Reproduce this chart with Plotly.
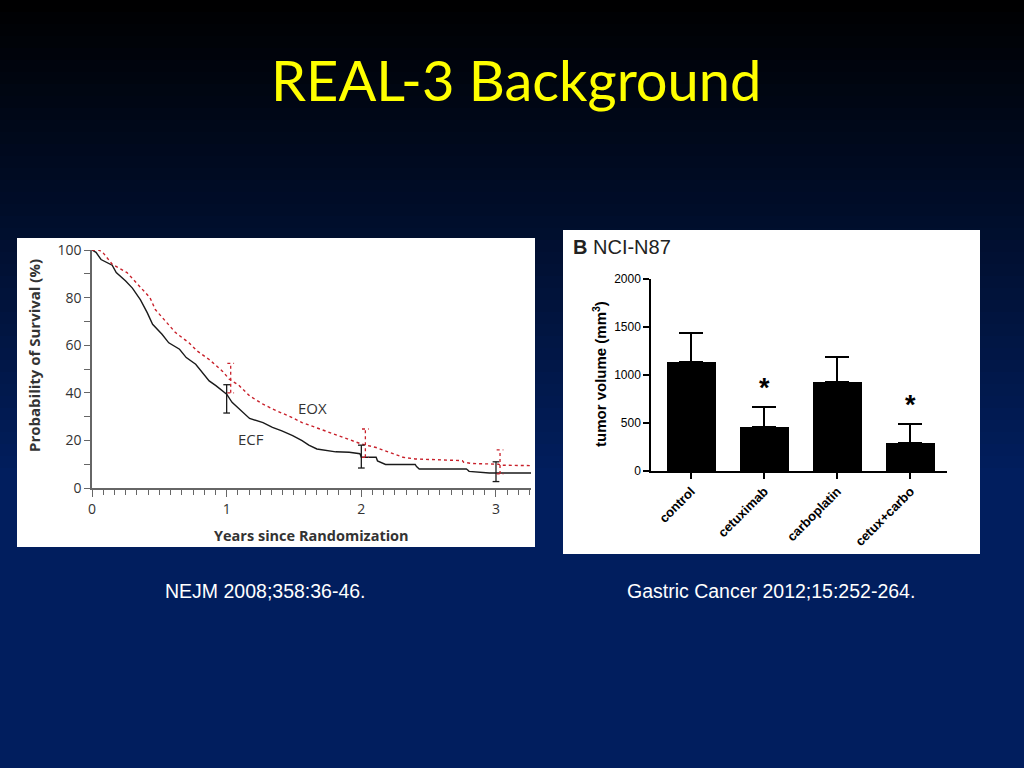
import plotly.graph_objects as go

W, H = 1024, 768

# ---------------- Data: Kaplan-Meier ----------------
ecf_t = [0, 0.03, 0.067, 0.15, 0.18, 0.25, 0.30, 0.36, 0.41, 0.45, 0.52, 0.57, 0.65, 0.70, 0.77,
         0.82, 0.87, 0.92, 1.0, 1.04, 1.12, 1.17, 1.27, 1.34, 1.41, 1.49, 1.56, 1.61, 1.67,
         1.81, 1.91, 1.99, 2.0, 2.11, 2.12, 2.18, 2.40, 2.41, 2.43, 2.78, 2.79, 2.80, 2.95, 3.26]
ecf_s = [100, 99, 96, 93.6, 90.5, 87, 84, 79, 73.7, 68.8, 64.6, 61, 58.3, 54.8, 52,
         48.5, 45, 43, 39.4, 36, 31.7, 29.2, 27.5, 25.5, 24, 22, 19.9, 18, 16.4,
         15.2, 15, 14.4, 12.9, 12.9, 11.4, 9.9, 9.9, 9.0, 8, 8, 7.6, 7, 6.3, 6.3]

eox_t = [0, 0.05, 0.08, 0.15, 0.26, 0.33, 0.43, 0.47, 0.55, 0.62, 0.72, 0.78, 0.87, 0.97, 1.02,
         1.09, 1.17, 1.27, 1.37, 1.46, 1.56, 1.66, 1.76, 1.86, 2.0, 2.11, 2.21, 2.31, 2.40,
         2.75, 2.76, 2.82, 3.02, 3.03, 3.26]
eox_s = [100, 100, 99, 94, 90.5, 86, 80, 75, 70, 65.3, 61, 57.6, 54, 49, 45.7,
         43.2, 38.7, 35.2, 32.4, 30.3, 27.5, 25.5, 23.4, 21.3, 18.5, 17, 15, 12.9, 12.2,
         11.5, 10.8, 10.3, 10, 9.6, 9.4]

ecf_ci_t = [1.0, 2.0, 3.0]
ecf_ci_lo = [31.5, 8.4, 2.7]
ecf_ci_hi = [43.4, 18.0, 11.0]
eox_ci_t = [1.03, 2.03, 3.03]
eox_ci_lo = [40.0, 12.9, 5.9]
eox_ci_hi = [52.4, 24.8, 16.0]

km_x_ticks = [0, 1, 2, 3]
km_y_ticks = [0, 20, 40, 60, 80, 100]

# ---------------- Data: tumor volume bars ----------------
groups = ["control", "cetuximab", "carboplatin", "cetux+carbo"]
volume = [1134, 456, 922, 296]
volume_err = [306, 212, 261, 191]
signif = [False, True, False, True]
bar_y_ticks = [0, 500, 1000, 1500, 2000]


def px_x(p):
    return p / W


def px_y(p):
    return 1 - p / H


fig = go.Figure()

# ---- KM curves ----
fig.add_trace(go.Scatter(x=ecf_t, y=ecf_s, mode="lines", line_shape="linear",
                         line=dict(color="#1a1a1a", width=1.4), xaxis="x", yaxis="y",
                         showlegend=False, hoverinfo="skip"))
fig.add_trace(go.Scatter(x=eox_t, y=eox_s, mode="lines", line_shape="linear",
                         line=dict(color="#c8202a", width=1.4, dash="dot"), xaxis="x", yaxis="y",
                         showlegend=False, hoverinfo="skip"))


def ci_segments(ts, lo, hi, cap=0.025):
    xs, ys = [], []
    for t, a, b in zip(ts, lo, hi):
        xs += [t, t, None, t - cap, t + cap, None, t - cap, t + cap, None]
        ys += [a, b, None, a, a, None, b, b, None]
    return xs, ys


cx, cy = ci_segments(ecf_ci_t, ecf_ci_lo, ecf_ci_hi)
fig.add_trace(go.Scatter(x=cx, y=cy, mode="lines", line=dict(color="#1a1a1a", width=1.3),
                         xaxis="x", yaxis="y", showlegend=False, hoverinfo="skip"))
rx, ry = ci_segments(eox_ci_t, eox_ci_lo, eox_ci_hi)
fig.add_trace(go.Scatter(x=rx, y=ry, mode="lines", line=dict(color="#c8202a", width=1.3, dash="dot"),
                         xaxis="x", yaxis="y", showlegend=False, hoverinfo="skip"))

# ---- Bars ----
fig.add_trace(go.Bar(x=groups, y=volume, width=0.67, marker=dict(color="black", line=dict(width=0)),
                     error_y=dict(type="data", array=volume_err, arrayminus=[0] * len(volume),
                                  symmetric=False, color="black", thickness=2, width=12),
                     xaxis="x2", yaxis="y2", showlegend=False, hoverinfo="skip"))

# ---------------- Background gradient + panels ----------------
shapes = []
N = 64
top = (0, 0, 0)
bot = (1, 30, 94)
for i in range(N):
    frac = min(1.0, (i + 0.5) / N / 0.62)
    c = tuple(int(round(top[k] + (bot[k] - top[k]) * frac)) for k in range(3))
    shapes.append(dict(type="rect", xref="paper", yref="paper", x0=-0.01, x1=1.01,
                       y0=1 - (i + 1) / N - 0.002 if i < N - 1 else -0.02,
                       y1=1 - i / N if i > 0 else 1.02, line=dict(width=0),
                       fillcolor="rgb(%d,%d,%d)" % c, layer="below"))
# white panels
shapes.append(dict(type="rect", xref="paper", yref="paper", x0=px_x(17), x1=px_x(535),
                   y0=px_y(547), y1=px_y(238), fillcolor="white", line=dict(width=0), layer="below"))
shapes.append(dict(type="rect", xref="paper", yref="paper", x0=px_x(563), x1=px_x(980),
                   y0=px_y(554), y1=px_y(230), fillcolor="white", line=dict(width=0), layer="below"))

annotations = [
    dict(text="REAL-3 Background", x=px_x(516), y=px_y(80), xref="paper", yref="paper",
         showarrow=False, font=dict(family="Lato", size=56, color="#ffff00"),
         xanchor="center", yanchor="middle"),
    dict(text="NEJM 2008;358:36-46.", x=px_x(265), y=px_y(591), xref="paper", yref="paper",
         showarrow=False, font=dict(family="Liberation Sans, Arial", size=19.5, color="white"),
         xanchor="center", yanchor="middle"),
    dict(text="Gastric Cancer 2012;15:252-264.", x=px_x(771), y=px_y(591), xref="paper", yref="paper",
         showarrow=False, font=dict(family="Liberation Sans, Arial", size=19.5, color="white"),
         xanchor="center", yanchor="middle"),
    dict(text="EOX", x=1.64, y=33.8, xref="x", yref="y", showarrow=False,
         font=dict(family="Open Sans", size=15, color="#333333")),
    dict(text="ECF", x=1.18, y=20.6, xref="x", yref="y", showarrow=False,
         font=dict(family="Open Sans", size=15, color="#333333")),
    dict(text="<b>Years since Randomization</b>", x=px_x(311), y=px_y(535), xref="paper", yref="paper",
         showarrow=False, font=dict(family="Open Sans", size=14.5, color="#333333"),
         xanchor="center", yanchor="middle"),
    dict(text="<b>Probability of Survival (%)</b>", x=px_x(34), y=px_y(356), xref="paper", yref="paper",
         showarrow=False, textangle=-90,
         font=dict(family="Open Sans", size=15, color="#333333"),
         xanchor="center", yanchor="middle"),
    dict(text="<b>B</b> NCI-N87", x=px_x(571), y=px_y(247), xref="paper", yref="paper",
         showarrow=False, font=dict(family="Liberation Sans, Arial", size=20, color="#222222"),
         xanchor="left", yanchor="middle"),
    dict(text="<b>tumor volume (mm<sup>3</sup>)</b>", x=px_x(599), y=px_y(374), xref="paper", yref="paper",
         showarrow=False, textangle=-90,
         font=dict(family="Liberation Sans, Arial", size=15, color="black"),
         xanchor="center", yanchor="middle"),
]
for g, v, e, s in zip(groups, volume, volume_err, signif):
    if s:
        annotations.append(dict(text="<b>*</b>", x=g, y=v + e, xref="x2", yref="y2",
                                showarrow=False, yshift=19,
                                font=dict(family="Liberation Sans, Arial", size=27, color="black"),
                                xanchor="center", yanchor="middle"))

fig.update_layout(
    width=W, height=H,
    margin=dict(l=0, r=0, t=0, b=0, pad=0, autoexpand=False),
    paper_bgcolor="rgb(1,30,94)", plot_bgcolor="rgba(0,0,0,0)",
    shapes=shapes, annotations=annotations, bargap=0,
    xaxis=dict(domain=[px_x(92), px_x(531)], range=[0, 3.26], anchor="y", automargin=False,
               tickvals=km_x_ticks, ticks="outside", ticklen=7, tickwidth=1.3, tickcolor="#666",
               showline=True, linecolor="#666", linewidth=1.5, showgrid=False, zeroline=False,
               tickfont=dict(family="Open Sans", size=14, color="#333"),
               minor=dict(dtick=1 / 12, tick0=0, ticks="outside", ticklen=5, tickcolor="#666",
                          tickwidth=1, showgrid=False)),
    yaxis=dict(domain=[px_y(488), px_y(250)], range=[0, 100], anchor="x", automargin=False,
               tickvals=km_y_ticks, ticks="outside", ticklen=6, tickwidth=1.3, tickcolor="#666",
               showline=True, linecolor="#666", linewidth=1.5, showgrid=False, zeroline=False,
               tickfont=dict(family="Open Sans", size=14, color="#333"),
               minor=dict(dtick=10, tick0=0, ticks="outside", ticklen=6, tickcolor="#666",
                          tickwidth=1, showgrid=False)),
    xaxis2=dict(domain=[px_x(651), px_x(947)], range=[-0.55, 3.5], anchor="y2", automargin=False,
                type="category", ticks="outside", ticklen=6, tickwidth=1.5, tickcolor="black",
                showline=True, linecolor="black", linewidth=1.5, showgrid=False, zeroline=False,
                tickangle=-45,
                tickfont=dict(family="Liberation Sans, Arial", size=13, color="black", weight="bold")),
    yaxis2=dict(domain=[px_y(471), px_y(279)], range=[0, 2000], anchor="x2", automargin=False,
                tickvals=bar_y_ticks, ticks="outside", ticklen=6, tickwidth=1.5, tickcolor="black",
                showline=True, linecolor="black", linewidth=1.5, showgrid=False, zeroline=False,
                tickfont=dict(family="Liberation Sans, Arial", size=12, color="black")),
)

fig.write_html("out.html", config={"displayModeBar": False},
               post_script="document.body.style.margin='0';document.body.style.overflow='hidden';")
